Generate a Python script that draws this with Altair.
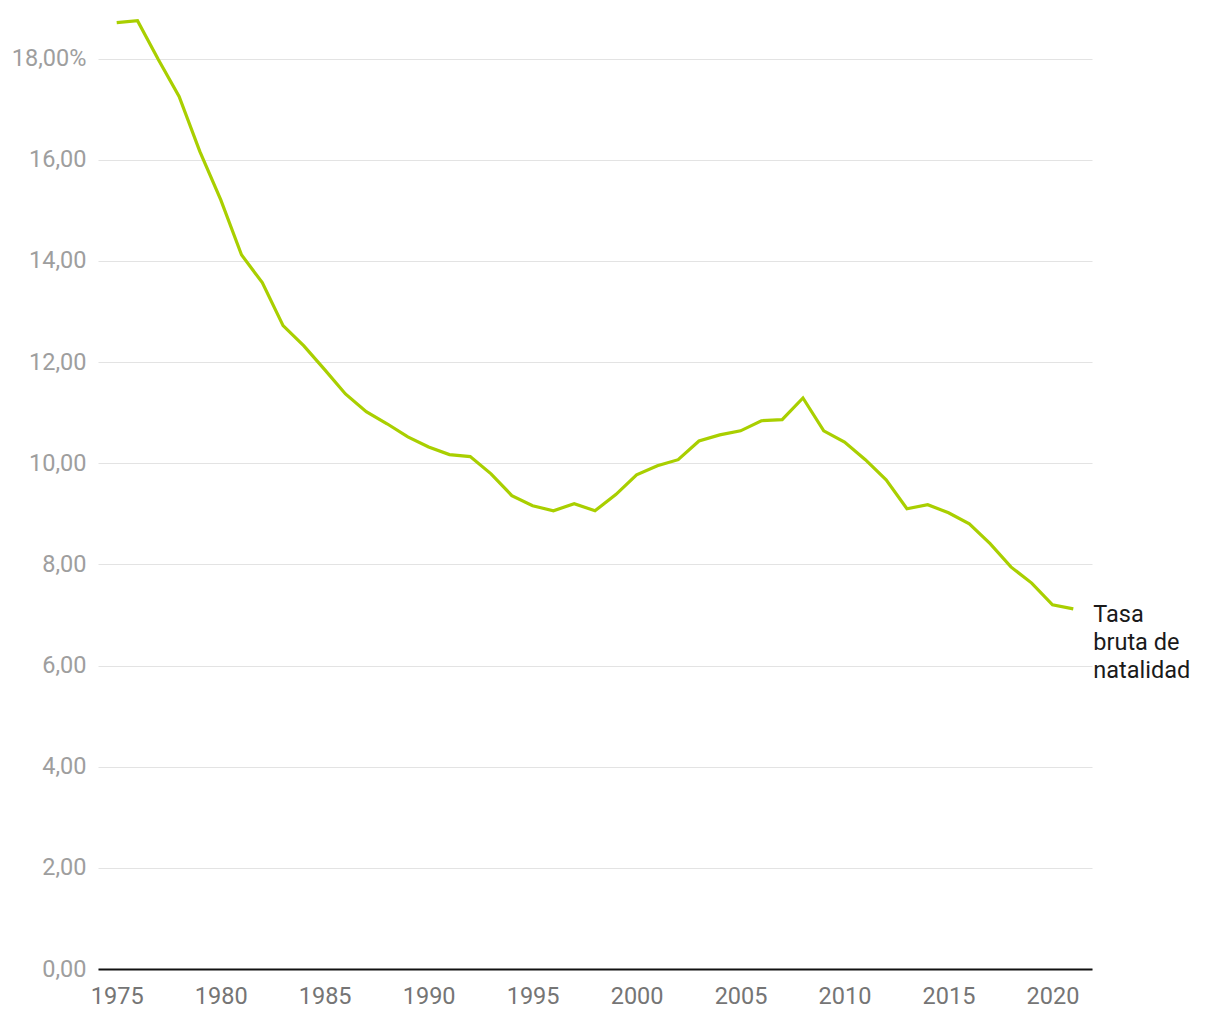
import altair as alt
import pandas as pd

years = list(range(1975, 2022))
values = [18.71, 18.75, 17.98, 17.25, 16.16, 15.21, 14.12, 13.57, 12.72, 12.32,
          11.85, 11.37, 11.02, 10.78, 10.52, 10.32, 10.17, 10.13, 9.79, 9.36,
          9.16, 9.06, 9.20, 9.06, 9.38, 9.77, 9.95, 10.07, 10.44, 10.56,
          10.64, 10.84, 10.86, 11.29, 10.64, 10.42, 10.07, 9.67, 9.10, 9.18,
          9.02, 8.80, 8.41, 7.95, 7.63, 7.20, 7.12]
x_ticks = [1975, 1980, 1985, 1990, 1995, 2000, 2005, 2010, 2015, 2020]
y_ticks = [0, 2, 4, 6, 8, 10, 12, 14, 16, 18]
series_label = ["Tasa", "bruta de", "natalidad"]

df = pd.DataFrame({"year": years, "value": values})
lab = pd.DataFrame({"year": [years[-1]], "value": [values[-1]], "label": ["\n".join(series_label)]})

FONT = "Roboto"
FS = 23.5

xscale = alt.Scale(domain=[1974.1, 2021.9], nice=False, zero=False)
yscale = alt.Scale(domain=[0, 19], nice=False)

line = alt.Chart(df).mark_line(color="#a9cf00", strokeWidth=3.2, strokeJoin="miter").encode(
    x=alt.X("year:Q", scale=xscale,
            axis=alt.Axis(values=x_ticks, format="d", title=None, grid=False, ticks=False,
                          domain=True, domainColor="#111111", domainWidth=2,
                          labelFont=FONT, labelFontSize=FS, labelColor="#757575",
                          labelPadding=15, labelFlush=False)),
    y=alt.Y("value:Q", scale=yscale,
            axis=alt.Axis(values=y_ticks, title=None, grid=True, gridColor="#e3e3e3", gridWidth=1.2,
                          ticks=False, domain=False,
                          labelFont=FONT, labelFontSize=FS, labelColor="#9e9e9e",
                          labelPadding=12,
                          labelExpr="datum.value == 18 ? '18,00%' : replace(format(datum.value, '.2f'), '.', ',')")),
)

text = alt.Chart(lab).mark_text(align="left", baseline="alphabetic", dx=20, dy=13,
                                 font=FONT, fontSize=FS, color="#1a1a1a", lineBreak="\n",
                                 lineHeight=28).encode(
    x=alt.X("year:Q", scale=xscale),
    y=alt.Y("value:Q", scale=yscale),
    text="label:N",
)

chart = (line + text).properties(
    width=994, height=961,
    padding={"left": 90, "top": 0, "right": 120, "bottom": 45},
    autosize=alt.AutoSizeParams(type="none"),
).configure_view(stroke=None)

chart.save("out.html", embed_options={"renderer": "svg", "actions": False})
